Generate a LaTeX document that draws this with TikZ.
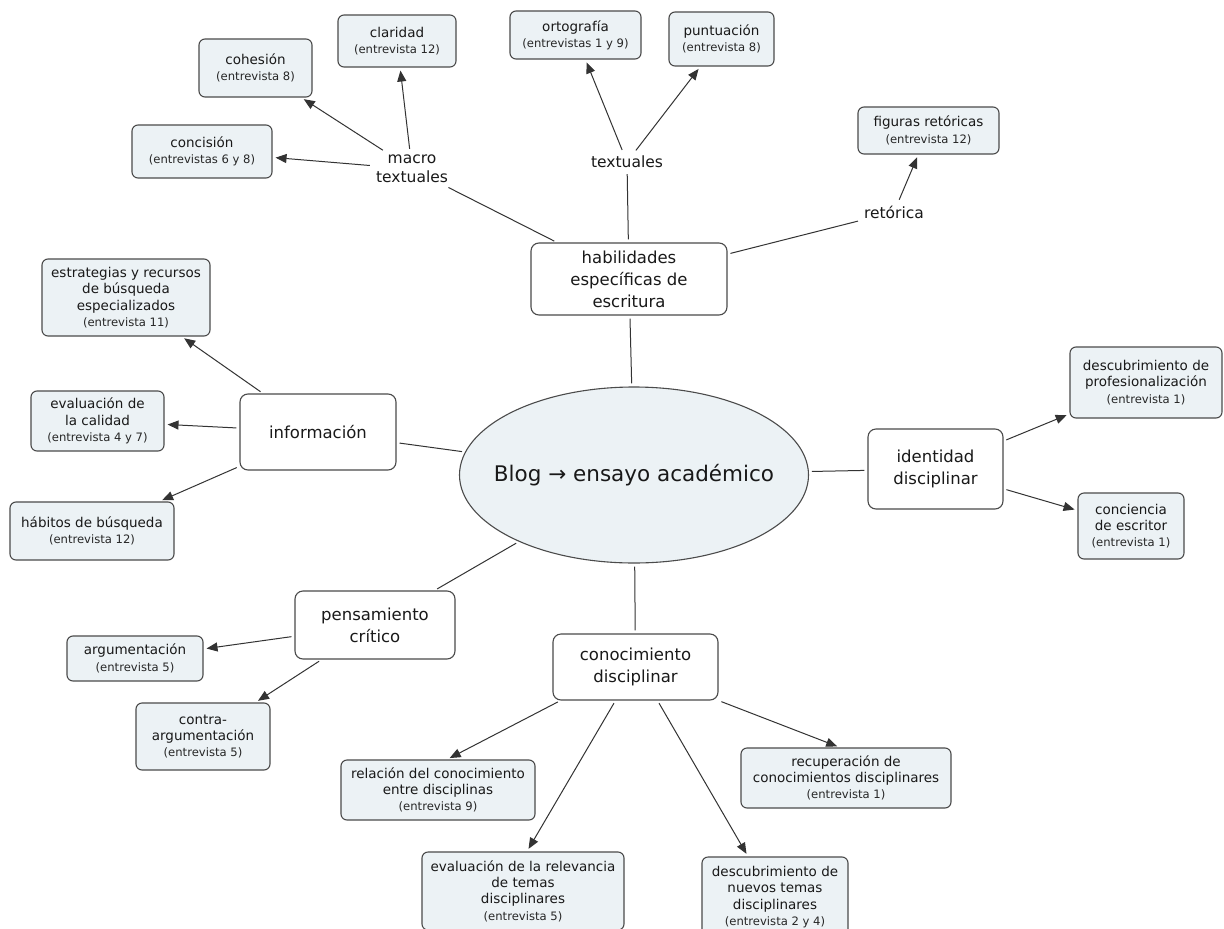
\documentclass[tikz,border=0pt]{standalone}
\usepackage{fontspec}
\setmainfont{DejaVu Sans}
\usetikzlibrary{arrows.meta,shapes.geometric}
\definecolor{leafblue}{RGB}{236,242,245}
\definecolor{edgegray}{RGB}{75,75,75}
\newcommand\entr[1]{{\fontsize{11.6}{16}\selectfont\color{black!85}(#1)}}
\tikzset{
  concept/.style 2 args={draw=edgegray, line width=1.1pt, rounded corners=8pt, fill=white,
    align=center, minimum width=#1pt, minimum height=#2pt, inner sep=2pt,
    text=black!90, font=\fontsize{16.5}{22}\selectfont},
  leaf/.style 2 args={draw=edgegray, line width=1.1pt, rounded corners=6pt, fill=leafblue,
    align=center, minimum width=#1pt, minimum height=#2pt, inner sep=2pt,
    text=black!90, font=\fontsize{13.5}{16.3}\selectfont},
  linkword/.style={align=center, inner sep=3pt, text=black!90, font=\fontsize{15.5}{19}\selectfont},
  link/.style={draw=black!80, line width=1pt, shorten <=3pt, shorten >=3pt},
  arr/.style={link, -{Triangle[length=11pt,width=9pt]}},
}
\begin{document}
\begin{tikzpicture}[x=1pt,y=-1pt]
        \clip (0,0) rectangle (1224,929);
        \fill[white] (0,0) rectangle (1224,929);
        %% centre
        \node[ellipse, draw=edgegray, line width=1.1pt, fill=leafblue, inner sep=0pt,
            minimum width=349pt, minimum height=176pt,
            label={[font=\fontsize{21.5}{26}\selectfont, text=black!90]center:Blog → ensayo académico}] (blog) at (634,475) {};
        %% habilidades
        \node[concept={196}{72}] (habil) at (629,279) {habilidades\\específicas de\\escritura};
        \node[linkword] (macro) at (412,169) {macro\\textuales};
        \node[linkword] (textu) at (627,162) {textuales};
        \node[linkword] (retor) at (894,212) {retórica};
        \node[leaf={113}{58}] (cohes) at (255.5,68) {cohesión\\\entr{entrevista 8}};
        \node[leaf={118}{52}] (clari) at (397,41) {claridad\\\entr{entrevista 12}};
        \node[leaf={140}{53}] (conci) at (202,151.5) {concisión\\\entr{entrevistas 6 y 8}};
        \node[leaf={131}{48}] (ortog) at (575.5,35) {ortografía\\\entr{entrevistas 1 y 9}};
        \node[leaf={105}{54}] (puntu) at (721.5,39) {puntuación\\\entr{entrevista 8}};
        \node[leaf={141}{47}] (figur) at (928.5,130.5) {figuras retóricas\\\entr{entrevista 12}};
        %% informacion
        \node[concept={156}{76}] (info) at (318,432) {información};
        \node[leaf={168}{77}] (estra) at (126,297.5) {estrategias y recursos\\de búsqueda\\especializados\\\entr{entrevista 11}};
        \node[leaf={133}{60}] (calid) at (97.5,421) {evaluación de\\la calidad\\\entr{entrevista 4 y 7}};
        \node[leaf={164}{58}] (habit) at (92,531) {hábitos de búsqueda\\\entr{entrevista 12}};
        %% identidad
        \node[concept={135}{80}] (ident) at (935.5,469) {identidad\\disciplinar};
        \node[leaf={152}{71}] (profe) at (1146,382.5) {descubrimiento de\\profesionalización\\\entr{entrevista 1}};
        \node[leaf={106}{66}] (conce) at (1131,526) {conciencia\\de escritor\\\entr{entrevista 1}};
        %% pensamiento
        \node[concept={160}{68}] (pensa) at (375,625) {pensamiento\\crítico};
        \node[leaf={136}{45}] (argum) at (135,658.5) {argumentación\\\entr{entrevista 5}};
        \node[leaf={134}{67}] (contr) at (203,736.5) {contra-\\argumentación\\\entr{entrevista 5}};
        %% conocimiento
        \node[concept={165}{66}] (conoc) at (635.5,667) {conocimiento\\disciplinar};
        \node[leaf={194}{60}] (relac) at (438,790) {relación del conocimiento\\entre disciplinas\\\entr{entrevista 9}};
        \node[leaf={202}{78}] (evrel) at (523,891) {evaluación de la relevancia\\de temas\\disciplinares\\\entr{entrevista 5}};
        \node[leaf={210}{60}] (recup) at (846,778) {recuperación de\\conocimientos disciplinares\\\entr{entrevista 1}};
        \node[leaf={146}{80}] (descu) at (775,897) {descubrimiento de\\nuevos temas\\disciplinares\\\entr{entrevista 2 y 4}};
        %% connectors
        \foreach \t in {habil,info,ident,pensa,conoc}
            \draw[link] (blog) -- (\t);
        \foreach \t in {macro,textu,retor}
            \draw[link] (habil) -- (\t);
        \foreach \t in {cohes,clari,conci}
            \draw[arr] (macro) -- (\t);
        \foreach \t in {ortog,puntu}
            \draw[arr] (textu) -- (\t);
        \draw[arr] (retor) -- (figur);
        \foreach \t in {estra,calid,habit}
            \draw[arr] (info) -- (\t);
        \foreach \t in {profe,conce}
            \draw[arr] (ident) -- (\t);
        \foreach \t in {argum,contr}
            \draw[arr] (pensa) -- (\t);
        \draw[arr] ([xshift=-75pt]conoc.south) -- ([xshift=9pt]relac.north);
        \draw[arr] ([xshift=-20pt]conoc.south) -- ([xshift=4pt]evrel.north);
        \draw[arr] ([xshift=22pt]conoc.south) -- ([xshift=-27pt]descu.north);
        \draw[arr] (conoc.south east) -- ([xshift=-6pt]recup.north);
\end{tikzpicture}
\end{document}
